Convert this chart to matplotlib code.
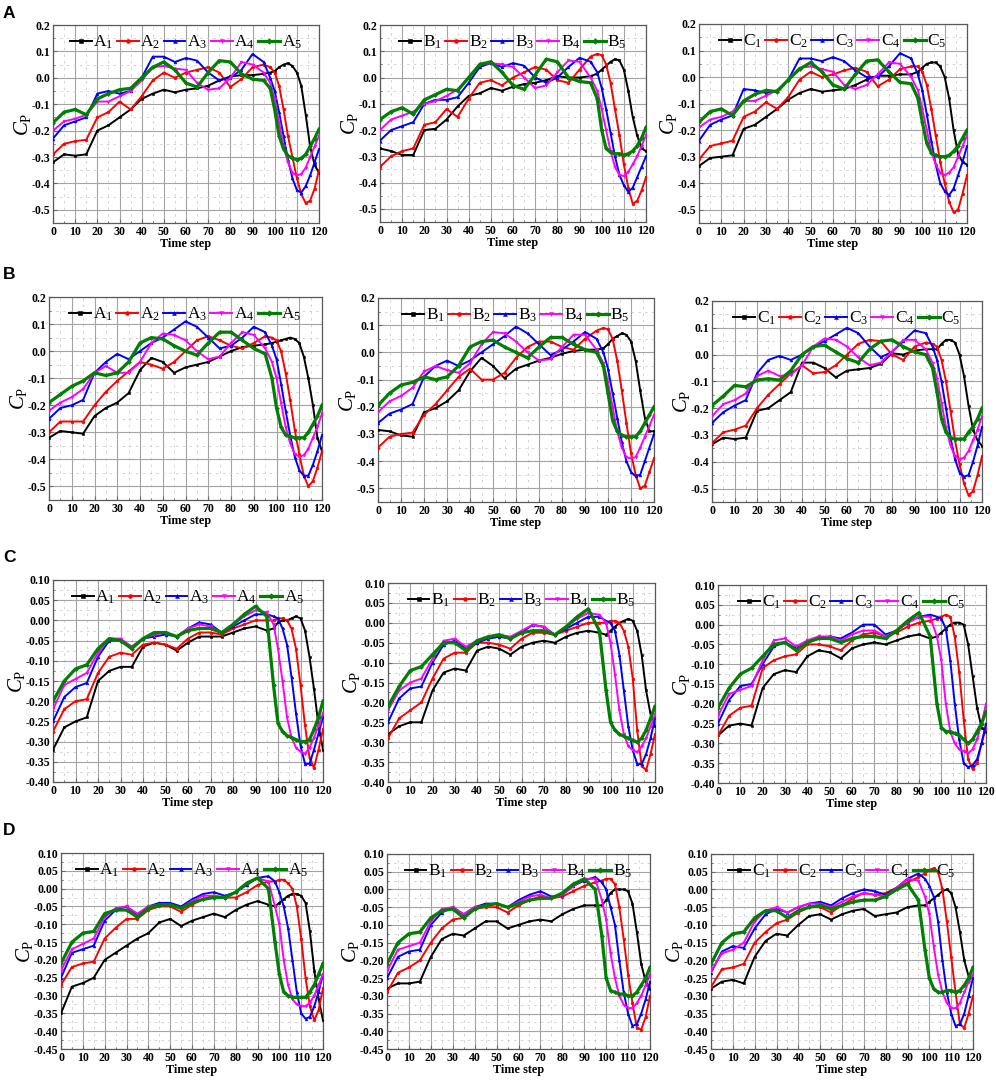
"""
Pressure coefficient Cp over one time period: four cases (A-D), three
probe groups each (A1..A5, B1..B5, C1..C5).
Values read off the reference figure at every 5th time step, and every
2nd step close to the suction peak.
"""

import matplotlib
matplotlib.use("Agg")
import matplotlib.pyplot as plt
import numpy as np
from matplotlib.ticker import MultipleLocator

plt.rcParams["font.family"] = ["Liberation Serif", "DejaVu Serif"]
plt.rcParams["mathtext.fontset"] = "custom"
plt.rcParams["mathtext.rm"] = "Liberation Serif"
plt.rcParams["mathtext.it"] = "Liberation Serif:italic"
plt.rcParams["mathtext.bf"] = "Liberation Serif:bold"
plt.rcParams["axes.unicode_minus"] = False

TIME = [0, 5, 10, 15, 20, 25, 30, 35, 40, 45, 50, 55, 60, 65, 70, 75, 80, 85, 90, 95,
        98, 100, 102, 104, 106, 108, 110, 112, 114, 116, 118, 120]

# ---- case A ----
rowA_A1 = [-0.32, -0.29, -0.295, -0.29, -0.20, -0.18, -0.15, -0.12, -0.08, -0.06, -0.045, -0.055, -0.045, -0.04, -0.03, -0.01, 0.005, 0.01, 0.01, 0.015,
           0.02, 0.025, 0.04, 0.05, 0.055, 0.045, 0.02, -0.03, -0.14, -0.26, -0.33, -0.36]
rowA_A2 = [-0.29, -0.25, -0.24, -0.235, -0.15, -0.13, -0.09, -0.12, -0.07, -0.01, 0.02, 0.0, 0.02, 0.03, 0.04, 0.02, -0.035, -0.005, 0.04, 0.05,
           0.04, 0.02, -0.03, -0.12, -0.22, -0.30, -0.38, -0.44, -0.475, -0.465, -0.42, -0.35]
rowA_A3 = [-0.23, -0.18, -0.165, -0.15, -0.06, -0.05, -0.06, -0.05, 0.0, 0.08, 0.08, 0.06, 0.075, 0.065, 0.02, -0.01, 0.0, 0.03, 0.09, 0.06,
           0.0, -0.05, -0.13, -0.22, -0.31, -0.38, -0.425, -0.435, -0.41, -0.37, -0.32, -0.27]
rowA_A4 = [-0.20, -0.165, -0.155, -0.14, -0.09, -0.09, -0.07, -0.05, -0.01, 0.04, 0.045, 0.035, 0.03, -0.02, -0.045, -0.04, 0.0, 0.06, 0.05, 0.02,
           -0.02, -0.08, -0.17, -0.26, -0.32, -0.36, -0.37, -0.365, -0.34, -0.30, -0.26, -0.22]
rowA_A5 = [-0.17, -0.13, -0.12, -0.14, -0.08, -0.06, -0.045, -0.04, 0.0, 0.04, 0.06, 0.03, -0.02, -0.035, 0.02, 0.065, 0.06, 0.015, -0.005, -0.01,
           -0.04, -0.12, -0.22, -0.27, -0.295, -0.305, -0.31, -0.305, -0.29, -0.26, -0.23, -0.195]

rowA_B1 = [-0.27, -0.28, -0.295, -0.295, -0.20, -0.195, -0.16, -0.11, -0.07, -0.06, -0.04, -0.05, -0.035, -0.025, -0.02, -0.01, 0.005, 0.0, 0.0, 0.005,
           0.015, 0.03, 0.045, 0.06, 0.07, 0.065, 0.03, -0.05, -0.15, -0.22, -0.27, -0.28]
rowA_B2 = [-0.34, -0.30, -0.28, -0.27, -0.18, -0.17, -0.12, -0.15, -0.08, -0.02, -0.01, -0.03, 0.0, 0.02, 0.04, 0.03, -0.01, -0.02, 0.03, 0.08,
           0.09, 0.085, 0.05, -0.02, -0.12, -0.22, -0.33, -0.42, -0.48, -0.47, -0.43, -0.38]
rowA_B3 = [-0.24, -0.20, -0.185, -0.17, -0.10, -0.085, -0.085, -0.075, -0.02, 0.04, 0.055, 0.04, 0.055, 0.045, 0.0, -0.02, 0.0, 0.04, 0.075, 0.06,
           0.02, -0.04, -0.12, -0.21, -0.30, -0.37, -0.41, -0.435, -0.42, -0.38, -0.34, -0.30]
rowA_B4 = [-0.20, -0.16, -0.145, -0.13, -0.10, -0.09, -0.07, -0.045, 0.0, 0.05, 0.055, 0.05, 0.04, 0.0, -0.04, -0.03, 0.02, 0.065, 0.06, 0.0,
           -0.05, -0.12, -0.20, -0.28, -0.34, -0.37, -0.375, -0.36, -0.33, -0.30, -0.26, -0.22]
rowA_B5 = [-0.16, -0.13, -0.115, -0.14, -0.085, -0.065, -0.045, -0.05, 0.0, 0.05, 0.06, 0.02, -0.03, -0.045, 0.01, 0.07, 0.06, 0.0, -0.015, -0.02,
           -0.08, -0.20, -0.27, -0.285, -0.29, -0.29, -0.295, -0.29, -0.28, -0.26, -0.23, -0.19]

rowA_C1 = [-0.335, -0.305, -0.30, -0.295, -0.195, -0.18, -0.15, -0.12, -0.085, -0.06, -0.045, -0.055, -0.05, -0.045, -0.03, -0.01, 0.005, 0.005, 0.01, 0.01,
           0.02, 0.035, 0.05, 0.055, 0.055, 0.04, 0.0, -0.08, -0.20, -0.29, -0.32, -0.33]
rowA_C2 = [-0.31, -0.26, -0.25, -0.24, -0.15, -0.13, -0.095, -0.12, -0.075, -0.01, 0.02, 0.0, 0.01, 0.025, 0.035, 0.02, -0.035, -0.01, 0.03, 0.04,
           0.04, 0.02, -0.03, -0.12, -0.22, -0.32, -0.40, -0.47, -0.51, -0.50, -0.44, -0.37]
rowA_C3 = [-0.24, -0.18, -0.16, -0.145, -0.045, -0.05, -0.06, -0.05, -0.01, 0.07, 0.07, 0.06, 0.075, 0.06, 0.025, 0.0, 0.0, 0.04, 0.09, 0.07,
           0.01, -0.05, -0.14, -0.24, -0.33, -0.40, -0.43, -0.445, -0.42, -0.37, -0.32, -0.26]
rowA_C4 = [-0.19, -0.16, -0.15, -0.13, -0.09, -0.09, -0.07, -0.05, -0.01, 0.035, 0.04, 0.03, 0.02, -0.03, -0.045, -0.03, 0.01, 0.055, 0.05, 0.0,
           -0.05, -0.12, -0.20, -0.28, -0.33, -0.36, -0.37, -0.36, -0.34, -0.30, -0.26, -0.22]
rowA_C5 = [-0.17, -0.13, -0.12, -0.145, -0.09, -0.065, -0.05, -0.055, -0.01, 0.03, 0.055, 0.02, -0.03, -0.045, 0.01, 0.06, 0.065, 0.02, -0.02, -0.025,
           -0.08, -0.17, -0.25, -0.285, -0.295, -0.30, -0.30, -0.295, -0.28, -0.26, -0.23, -0.20]

# ---- case B ----
rowB_A1 = [-0.32, -0.295, -0.30, -0.305, -0.24, -0.21, -0.19, -0.155, -0.07, -0.025, -0.04, -0.08, -0.06, -0.05, -0.04, -0.02, 0.0, 0.015, 0.02, 0.025,
           0.03, 0.035, 0.04, 0.045, 0.05, 0.045, 0.03, -0.02, -0.10, -0.20, -0.32, -0.37]
rowB_A2 = [-0.30, -0.26, -0.26, -0.26, -0.20, -0.15, -0.11, -0.075, -0.04, -0.05, -0.065, -0.04, 0.0, 0.04, 0.055, 0.04, 0.02, 0.01, 0.03, 0.055,
           0.05, 0.04, 0.0, -0.08, -0.18, -0.29, -0.38, -0.46, -0.50, -0.48, -0.43, -0.37]
rowB_A3 = [-0.25, -0.21, -0.20, -0.18, -0.08, -0.04, -0.01, -0.03, 0.0, 0.03, 0.05, 0.08, 0.11, 0.09, 0.05, 0.01, 0.02, 0.05, 0.09, 0.07,
           0.02, -0.03, -0.12, -0.22, -0.31, -0.39, -0.44, -0.46, -0.46, -0.42, -0.37, -0.31]
rowB_A4 = [-0.22, -0.19, -0.17, -0.14, -0.08, -0.055, -0.08, -0.08, -0.04, 0.03, 0.065, 0.06, 0.04, 0.0, -0.03, -0.02, 0.03, 0.07, 0.06, 0.01,
           -0.04, -0.10, -0.19, -0.28, -0.34, -0.38, -0.39, -0.385, -0.36, -0.32, -0.28, -0.23]
rowB_A5 = [-0.19, -0.16, -0.13, -0.11, -0.08, -0.09, -0.08, -0.04, 0.03, 0.05, 0.045, 0.02, 0.0, -0.015, 0.03, 0.07, 0.07, 0.04, 0.01, -0.01,
           -0.10, -0.21, -0.28, -0.31, -0.315, -0.32, -0.32, -0.32, -0.30, -0.27, -0.24, -0.20]

rowB_B1 = [-0.285, -0.29, -0.305, -0.31, -0.22, -0.205, -0.18, -0.14, -0.07, -0.02, -0.05, -0.095, -0.06, -0.045, -0.03, -0.02, -0.005, 0.005, 0.01, 0.01,
           0.015, 0.03, 0.05, 0.06, 0.07, 0.065, 0.04, -0.03, -0.14, -0.24, -0.29, -0.29]
rowB_B2 = [-0.35, -0.31, -0.30, -0.295, -0.23, -0.19, -0.14, -0.09, -0.06, -0.10, -0.10, -0.075, -0.02, 0.02, 0.04, 0.04, 0.02, 0.01, 0.05, 0.08,
           0.09, 0.085, 0.05, -0.03, -0.14, -0.26, -0.37, -0.45, -0.50, -0.49, -0.44, -0.39]
rowB_B3 = [-0.26, -0.225, -0.21, -0.19, -0.09, -0.05, -0.03, -0.05, -0.03, 0.0, 0.03, 0.06, 0.095, 0.07, 0.03, -0.01, 0.01, 0.04, 0.075, 0.05,
           0.0, -0.06, -0.15, -0.24, -0.33, -0.40, -0.44, -0.455, -0.45, -0.40, -0.35, -0.30]
rowB_B4 = [-0.22, -0.18, -0.16, -0.13, -0.07, -0.05, -0.065, -0.075, -0.04, 0.03, 0.075, 0.07, 0.04, 0.0, -0.03, -0.025, 0.02, 0.065, 0.065, 0.01,
           -0.04, -0.11, -0.20, -0.29, -0.35, -0.385, -0.39, -0.385, -0.35, -0.31, -0.27, -0.23]
rowB_B5 = [-0.195, -0.15, -0.12, -0.11, -0.09, -0.10, -0.09, -0.05, 0.02, 0.04, 0.045, 0.02, 0.0, -0.02, 0.02, 0.055, 0.055, 0.03, 0.01, 0.0,
           -0.05, -0.15, -0.25, -0.29, -0.305, -0.31, -0.31, -0.31, -0.29, -0.26, -0.23, -0.20]

rowB_C1 = [-0.335, -0.31, -0.315, -0.31, -0.21, -0.20, -0.17, -0.14, -0.03, -0.03, -0.05, -0.085, -0.06, -0.055, -0.05, -0.035, 0.005, 0.0, 0.015, 0.02,
           0.02, 0.02, 0.04, 0.055, 0.055, 0.045, 0.0, -0.08, -0.19, -0.28, -0.32, -0.34]
rowB_C2 = [-0.33, -0.29, -0.28, -0.265, -0.20, -0.15, -0.11, -0.07, -0.04, -0.07, -0.065, -0.04, 0.0, 0.04, 0.055, 0.05, 0.0, -0.02, 0.03, 0.045,
           0.04, 0.03, -0.02, -0.10, -0.21, -0.32, -0.41, -0.48, -0.525, -0.51, -0.45, -0.38]
rowB_C3 = [-0.255, -0.215, -0.19, -0.17, -0.07, -0.02, -0.005, -0.02, 0.0, 0.03, 0.05, 0.075, 0.10, 0.08, 0.03, -0.01, 0.01, 0.05, 0.09, 0.08,
           0.03, -0.02, -0.10, -0.20, -0.31, -0.39, -0.44, -0.455, -0.45, -0.40, -0.34, -0.27]
rowB_C4 = [-0.23, -0.185, -0.17, -0.145, -0.08, -0.06, -0.08, -0.075, -0.04, 0.03, 0.06, 0.055, 0.03, -0.01, -0.04, -0.03, 0.01, 0.055, 0.055, 0.02,
           -0.03, -0.09, -0.18, -0.27, -0.34, -0.38, -0.39, -0.385, -0.36, -0.32, -0.28, -0.23]
rowB_C5 = [-0.19, -0.155, -0.115, -0.12, -0.095, -0.09, -0.095, -0.06, 0.0, 0.03, 0.035, 0.01, -0.015, -0.03, 0.02, 0.05, 0.055, 0.03, 0.01, 0.0,
           -0.05, -0.14, -0.24, -0.29, -0.31, -0.315, -0.315, -0.315, -0.29, -0.27, -0.24, -0.20]

# ---- case C ----
rowC_A1 = [-0.32, -0.265, -0.25, -0.24, -0.15, -0.125, -0.115, -0.115, -0.065, -0.055, -0.06, -0.075, -0.055, -0.04, -0.04, -0.04, -0.03, -0.02, -0.015, -0.025,
           -0.02, -0.005, 0.0, 0.0, 0.005, 0.01, 0.005, -0.025, -0.09, -0.17, -0.26, -0.32]
rowC_A2 = [-0.275, -0.22, -0.20, -0.195, -0.13, -0.09, -0.08, -0.085, -0.06, -0.055, -0.06, -0.07, -0.045, -0.03, -0.03, -0.035, -0.02, -0.01, 0.0, 0.0,
           0.0, 0.005, 0.005, 0.0, -0.02, -0.07, -0.16, -0.26, -0.34, -0.365, -0.32, -0.27]
rowC_A3 = [-0.25, -0.19, -0.165, -0.155, -0.09, -0.05, -0.05, -0.065, -0.045, -0.04, -0.035, -0.04, -0.02, -0.005, -0.01, -0.03, -0.015, 0.0, 0.015, 0.015,
           0.01, 0.005, -0.02, -0.06, -0.14, -0.23, -0.31, -0.355, -0.355, -0.32, -0.28, -0.24]
rowC_A4 = [-0.22, -0.16, -0.145, -0.13, -0.08, -0.045, -0.045, -0.065, -0.045, -0.035, -0.03, -0.04, -0.02, -0.01, -0.015, -0.03, -0.01, 0.01, 0.025, 0.02,
           -0.01, -0.07, -0.15, -0.24, -0.29, -0.315, -0.325, -0.33, -0.315, -0.29, -0.26, -0.23]
rowC_A5 = [-0.20, -0.15, -0.12, -0.11, -0.07, -0.045, -0.05, -0.07, -0.045, -0.03, -0.03, -0.04, -0.025, -0.02, -0.02, -0.03, -0.01, 0.015, 0.035, 0.01,
           -0.16, -0.255, -0.275, -0.285, -0.29, -0.295, -0.30, -0.30, -0.295, -0.27, -0.24, -0.20]

rowC_B1 = [-0.28, -0.26, -0.25, -0.25, -0.17, -0.125, -0.115, -0.12, -0.07, -0.06, -0.065, -0.08, -0.06, -0.05, -0.045, -0.05, -0.035, -0.025, -0.02, -0.025,
           -0.03, -0.02, -0.01, 0.0, 0.005, 0.01, 0.005, -0.02, -0.08, -0.17, -0.23, -0.26]
rowC_B2 = [-0.29, -0.24, -0.22, -0.20, -0.14, -0.09, -0.075, -0.075, -0.05, -0.05, -0.055, -0.065, -0.04, -0.025, -0.025, -0.03, -0.02, -0.01, 0.0, 0.0,
           0.0, 0.005, 0.005, 0.0, -0.02, -0.06, -0.14, -0.27, -0.36, -0.37, -0.33, -0.28]
rowC_B3 = [-0.25, -0.19, -0.165, -0.16, -0.10, -0.055, -0.045, -0.065, -0.05, -0.04, -0.035, -0.04, -0.025, -0.005, -0.01, -0.03, -0.015, 0.0, 0.015, 0.015,
           0.005, 0.0, -0.02, -0.08, -0.17, -0.26, -0.32, -0.355, -0.355, -0.33, -0.29, -0.24]
rowC_B4 = [-0.22, -0.17, -0.15, -0.14, -0.09, -0.045, -0.04, -0.06, -0.045, -0.035, -0.03, -0.035, -0.02, -0.005, -0.01, -0.03, -0.01, 0.01, 0.025, 0.02,
           0.0, -0.05, -0.13, -0.22, -0.28, -0.31, -0.32, -0.325, -0.31, -0.29, -0.26, -0.23]
rowC_B5 = [-0.21, -0.16, -0.12, -0.11, -0.08, -0.05, -0.05, -0.07, -0.045, -0.035, -0.03, -0.04, -0.025, -0.02, -0.02, -0.03, -0.01, 0.015, 0.035, -0.02,
           -0.17, -0.25, -0.27, -0.28, -0.285, -0.29, -0.295, -0.30, -0.29, -0.27, -0.24, -0.21]

rowC_C1 = [-0.28, -0.255, -0.25, -0.255, -0.16, -0.125, -0.115, -0.12, -0.08, -0.065, -0.07, -0.085, -0.06, -0.05, -0.045, -0.05, -0.04, -0.03, -0.025, -0.035,
           -0.03, -0.02, -0.01, 0.0, 0.005, 0.005, 0.0, -0.05, -0.13, -0.21, -0.26, -0.27]
rowC_C2 = [-0.28, -0.23, -0.21, -0.205, -0.11, -0.09, -0.08, -0.075, -0.05, -0.05, -0.055, -0.065, -0.04, -0.025, -0.02, -0.03, -0.02, -0.005, 0.005, 0.01,
           0.015, 0.02, 0.025, 0.02, -0.03, -0.12, -0.24, -0.34, -0.365, -0.35, -0.30, -0.26]
rowC_C3 = [-0.25, -0.19, -0.155, -0.15, -0.10, -0.055, -0.045, -0.06, -0.045, -0.035, -0.03, -0.035, -0.02, 0.0, 0.0, -0.025, -0.015, 0.005, 0.02, 0.025,
           0.02, 0.015, -0.01, -0.09, -0.20, -0.29, -0.35, -0.36, -0.355, -0.34, -0.30, -0.25]
rowC_C4 = [-0.23, -0.175, -0.165, -0.155, -0.09, -0.04, -0.035, -0.055, -0.04, -0.03, -0.03, -0.04, -0.025, -0.015, -0.015, -0.03, -0.015, 0.005, 0.02, 0.02,
           -0.03, -0.09, -0.20, -0.27, -0.30, -0.315, -0.32, -0.325, -0.315, -0.29, -0.25, -0.20]
rowC_C5 = [-0.21, -0.16, -0.125, -0.11, -0.08, -0.05, -0.045, -0.065, -0.045, -0.035, -0.035, -0.045, -0.035, -0.03, -0.03, -0.035, -0.015, 0.01, 0.03, -0.03,
           -0.20, -0.26, -0.27, -0.27, -0.275, -0.28, -0.29, -0.30, -0.29, -0.27, -0.25, -0.22]

# ---- case D ----
rowD_A1 = [-0.35, -0.275, -0.265, -0.25, -0.20, -0.18, -0.16, -0.14, -0.125, -0.095, -0.085, -0.105, -0.09, -0.08, -0.07, -0.08, -0.06, -0.045, -0.035, -0.045,
           -0.05, -0.04, -0.03, -0.02, -0.015, -0.015, -0.02, -0.04, -0.12, -0.23, -0.31, -0.37]
rowD_A2 = [-0.27, -0.22, -0.21, -0.205, -0.14, -0.11, -0.085, -0.085, -0.06, -0.05, -0.05, -0.065, -0.045, -0.03, -0.02, -0.025, -0.025, -0.01, 0.01, 0.02,
           0.02, 0.025, 0.025, 0.015, 0.0, -0.05, -0.14, -0.25, -0.33, -0.37, -0.34, -0.28]
rowD_A3 = [-0.25, -0.18, -0.17, -0.16, -0.09, -0.06, -0.05, -0.075, -0.05, -0.04, -0.04, -0.05, -0.03, -0.015, -0.01, -0.02, -0.01, 0.01, 0.03, 0.035,
           0.02, -0.01, -0.05, -0.11, -0.20, -0.29, -0.35, -0.365, -0.36, -0.33, -0.29, -0.24]
rowD_A4 = [-0.23, -0.17, -0.155, -0.14, -0.08, -0.055, -0.05, -0.07, -0.05, -0.045, -0.045, -0.055, -0.035, -0.02, -0.02, -0.025, -0.01, 0.015, 0.03, 0.02,
           -0.05, -0.10, -0.20, -0.27, -0.31, -0.325, -0.33, -0.33, -0.32, -0.30, -0.27, -0.24]
rowD_A5 = [-0.21, -0.15, -0.125, -0.12, -0.07, -0.06, -0.06, -0.08, -0.055, -0.045, -0.045, -0.055, -0.04, -0.03, -0.025, -0.025, -0.01, 0.015, 0.03, 0.0,
           -0.15, -0.24, -0.29, -0.30, -0.305, -0.305, -0.305, -0.305, -0.29, -0.27, -0.24, -0.21]

rowD_B1 = [-0.28, -0.265, -0.265, -0.26, -0.19, -0.14, -0.125, -0.13, -0.11, -0.09, -0.09, -0.11, -0.10, -0.09, -0.085, -0.09, -0.07, -0.055, -0.045, -0.045,
           -0.045, -0.03, -0.01, 0.0, 0.0, 0.0, -0.005, -0.04, -0.12, -0.21, -0.26, -0.28]
rowD_B2 = [-0.29, -0.235, -0.22, -0.20, -0.15, -0.11, -0.085, -0.08, -0.055, -0.05, -0.05, -0.065, -0.045, -0.03, -0.02, -0.025, -0.02, -0.005, 0.01, 0.02,
           0.025, 0.03, 0.03, 0.015, -0.05, -0.14, -0.24, -0.32, -0.39, -0.395, -0.36, -0.30]
rowD_B3 = [-0.25, -0.19, -0.175, -0.17, -0.10, -0.065, -0.05, -0.07, -0.05, -0.04, -0.04, -0.05, -0.03, -0.015, -0.005, -0.02, -0.015, 0.01, 0.025, 0.035,
           0.02, 0.0, -0.05, -0.10, -0.20, -0.29, -0.35, -0.385, -0.38, -0.35, -0.31, -0.26]
rowD_B4 = [-0.23, -0.17, -0.16, -0.15, -0.09, -0.055, -0.05, -0.07, -0.05, -0.045, -0.04, -0.05, -0.035, -0.02, -0.015, -0.025, -0.015, 0.01, 0.03, 0.03,
           -0.03, -0.085, -0.18, -0.25, -0.30, -0.325, -0.335, -0.335, -0.32, -0.30, -0.27, -0.24]
rowD_B5 = [-0.21, -0.15, -0.125, -0.12, -0.08, -0.06, -0.055, -0.08, -0.055, -0.045, -0.04, -0.05, -0.04, -0.03, -0.025, -0.025, -0.01, 0.015, 0.03, 0.0,
           -0.13, -0.25, -0.285, -0.29, -0.295, -0.295, -0.30, -0.30, -0.29, -0.27, -0.25, -0.22]

rowD_C1 = [-0.28, -0.26, -0.255, -0.265, -0.19, -0.145, -0.125, -0.13, -0.10, -0.075, -0.07, -0.085, -0.07, -0.06, -0.055, -0.075, -0.07, -0.065, -0.05, -0.045,
           -0.045, -0.035, -0.025, -0.015, -0.005, 0.0, -0.01, -0.05, -0.12, -0.20, -0.245, -0.25]
rowD_C2 = [-0.275, -0.225, -0.22, -0.21, -0.15, -0.12, -0.095, -0.085, -0.065, -0.05, -0.05, -0.065, -0.045, -0.025, -0.01, -0.015, -0.01, 0.005, 0.02, 0.035,
           0.045, 0.055, 0.06, 0.05, 0.0, -0.09, -0.19, -0.29, -0.38, -0.39, -0.35, -0.30]
rowD_C3 = [-0.235, -0.175, -0.16, -0.165, -0.11, -0.07, -0.055, -0.065, -0.05, -0.04, -0.035, -0.045, -0.025, -0.01, 0.0, -0.005, -0.015, 0.005, 0.03, 0.045,
           0.03, 0.01, -0.02, -0.09, -0.20, -0.29, -0.35, -0.385, -0.38, -0.35, -0.30, -0.25]
rowD_C4 = [-0.23, -0.18, -0.17, -0.15, -0.09, -0.06, -0.05, -0.065, -0.05, -0.04, -0.04, -0.05, -0.035, -0.02, -0.01, -0.015, -0.02, 0.005, 0.03, 0.025,
           -0.02, -0.07, -0.16, -0.24, -0.29, -0.32, -0.335, -0.335, -0.32, -0.29, -0.26, -0.24]
rowD_C5 = [-0.21, -0.15, -0.125, -0.12, -0.08, -0.06, -0.06, -0.08, -0.06, -0.05, -0.045, -0.055, -0.045, -0.035, -0.03, -0.03, -0.02, 0.0, 0.015, -0.03,
           -0.17, -0.25, -0.28, -0.29, -0.29, -0.285, -0.285, -0.29, -0.285, -0.27, -0.25, -0.22]

CASES = ["A", "B", "C", "D"]
GROUPS = ["A", "B", "C"]
SERIES = {
    "A": [[rowA_A1, rowA_A2, rowA_A3, rowA_A4, rowA_A5],
          [rowA_B1, rowA_B2, rowA_B3, rowA_B4, rowA_B5],
          [rowA_C1, rowA_C2, rowA_C3, rowA_C4, rowA_C5]],
    "B": [[rowB_A1, rowB_A2, rowB_A3, rowB_A4, rowB_A5],
          [rowB_B1, rowB_B2, rowB_B3, rowB_B4, rowB_B5],
          [rowB_C1, rowB_C2, rowB_C3, rowB_C4, rowB_C5]],
    "C": [[rowC_A1, rowC_A2, rowC_A3, rowC_A4, rowC_A5],
          [rowC_B1, rowC_B2, rowC_B3, rowC_B4, rowC_B5],
          [rowC_C1, rowC_C2, rowC_C3, rowC_C4, rowC_C5]],
    "D": [[rowD_A1, rowD_A2, rowD_A3, rowD_A4, rowD_A5],
          [rowD_B1, rowD_B2, rowD_B3, rowD_B4, rowD_B5],
          [rowD_C1, rowD_C2, rowD_C3, rowD_C4, rowD_C5]],
}

# y axis per case: (bottom, top, major step, minor step, label format)
Y_AXIS = {
    "A": (-0.55, 0.2, 0.1, 0.05, "%.1f"),
    "B": (-0.55, 0.2, 0.1, 0.05, "%.1f"),
    "C": (-0.40, 0.10, 0.05, 0.025, "%.2f"),
    "D": (-0.45, 0.10, 0.05, 0.025, "%.2f"),
}

# axes boxes in pixels of the 996x1081 picture: left, top, right, bottom
BOXES = {
    "A": [(53, 25, 319, 223), (380, 25, 646, 222), (699, 24, 967, 223)],
    "B": [(49, 297, 322, 500), (378, 298, 654, 502), (712, 301, 982, 502)],
    "C": [(53, 580, 323, 782), (388, 583, 655, 782), (718, 585, 986, 783)],
    "D": [(61, 853, 323, 1049), (387, 854, 650, 1049), (711, 854, 973, 1049)],
}
LABEL_TOP = {"A": 6, "B": 267, "C": 550, "D": 823}

COLORS = ["#000000", "#ff0000", "#0000ff", "#ff00ff", "#008000"]
MARKERS = ["s", "o", "^", "v", "D"]
WIDTHS = [1.4, 1.4, 1.4, 1.4, 2.3]
FIG_W, FIG_H = 996, 1081


def draw_panel(ax, case, gi):
    lo, hi, major, minor, fmt = Y_AXIS[case]
    for k, y in enumerate(SERIES[case][gi]):
        ax.plot(TIME, y, color=COLORS[k], lw=WIDTHS[k], marker=MARKERS[k],
                ms=2.0, mew=0.4, label=f"{GROUPS[gi]}$_{{{k + 1}}}$", zorder=3 + k)

    ax.set_xlim(0, 120)
    ax.set_ylim(lo, hi)
    ax.xaxis.set_major_locator(MultipleLocator(10))
    ax.xaxis.set_minor_locator(MultipleLocator(5))
    ticks = np.round(np.arange(round(lo / major) * major, hi + 1e-9, major), 3)
    ticks = [t for t in ticks if t >= lo - 1e-9]
    ax.set_yticks(ticks)
    ax.set_yticklabels([fmt % (0.0 if abs(t) < 1e-9 else t) for t in ticks])
    ax.yaxis.set_minor_locator(MultipleLocator(minor))

    ax.grid(which="major", color="#a3a3a3", lw=0.8, ls="-", zorder=0)
    ax.grid(which="minor", color="#cdcdcd", lw=0.6, ls=(0, (3, 5)), zorder=0)
    for s in ax.spines.values():
        s.set_color("#5a5a5a")
        s.set_linewidth(0.9)
    ax.tick_params(which="both", direction="in", colors="#6a6a6a", labelcolor="black",
                   labelsize=8.6, pad=2)
    ax.tick_params(which="major", length=3)
    ax.tick_params(which="minor", length=1.5)
    for lab in ax.get_xticklabels() + ax.get_yticklabels():
        lab.set_fontweight("bold")

    ax.set_xlabel("Time step", fontsize=8.8, fontweight="bold", labelpad=0)
    ax.set_ylabel(r"$C_{\mathrm{P}}$", fontsize=15, labelpad=-1)

    ax.legend(loc="upper center", bbox_to_anchor=(0.5, 1.0), ncol=5, frameon=False,
              fontsize=12.5, handlelength=1.25, handletextpad=0.1, columnspacing=0.2,
              borderaxespad=0.3, borderpad=0.2, markerscale=1.4)


def main():
    fig = plt.figure(figsize=(FIG_W / 100, FIG_H / 100), dpi=100)
    for case in CASES:
        for gi, (l, t, r, b) in enumerate(BOXES[case]):
            ax = fig.add_axes([l / FIG_W, 1 - b / FIG_H, (r - l) / FIG_W, (b - t) / FIG_H])
            draw_panel(ax, case, gi)
        fig.text(3 / FIG_W, 1 - LABEL_TOP[case] / FIG_H, case, ha="left", va="top",
                 fontsize=12.5, fontweight="bold", family="Liberation Sans")
    fig.savefig("out.png", dpi=100, facecolor="white")
    plt.close(fig)


if __name__ == "__main__":
    main()
